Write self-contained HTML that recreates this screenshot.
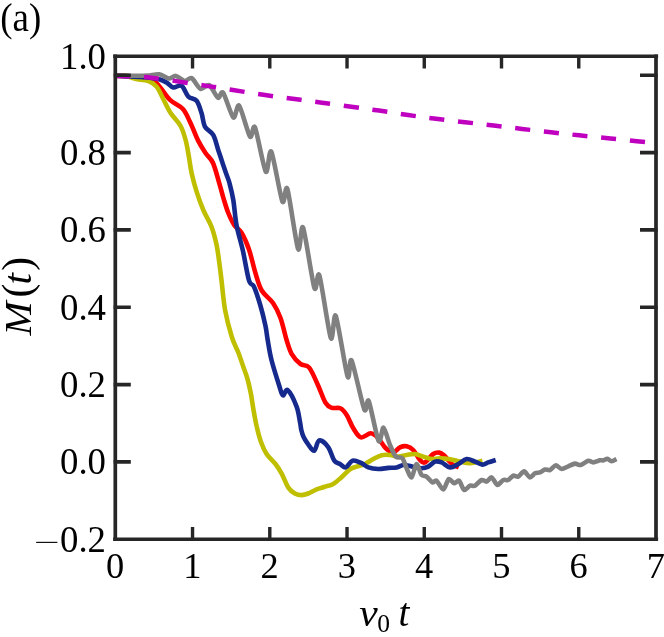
<!DOCTYPE html>
<html><head><meta charset="utf-8"><title>M(t)</title>
<style>
html,body{margin:0;padding:0;background:#fff;overflow:hidden}
svg{display:block}
text{font-family:"Liberation Serif",serif;fill:#000}
</style></head><body>
<svg width="664" height="637" viewBox="0 0 664 637">
<defs><filter id="idf" x="0" y="0" width="664" height="637" filterUnits="userSpaceOnUse"><feOffset dx="0" dy="0"/></filter></defs>
<rect width="664" height="637" fill="#ffffff"/>
<path d="M115.30 75.90 C118.58 76.00 128.77 75.82 135.00 76.50 C141.23 77.18 148.48 78.15 152.70 80.00 C156.92 81.85 157.37 84.23 160.30 87.60 C163.23 90.97 166.53 96.63 170.30 100.20 C174.07 103.77 179.55 105.23 182.90 109.00 C186.25 112.77 187.88 117.57 190.40 122.80 C192.92 128.03 195.48 135.37 198.00 140.40 C200.52 145.43 203.00 149.23 205.50 153.00 C208.00 156.77 210.70 157.95 213.00 163.00 C215.30 168.05 217.55 177.42 219.30 183.30 C221.05 189.18 222.00 193.35 223.50 198.30 C225.00 203.25 226.47 208.47 228.30 213.00 C230.13 217.53 232.30 222.20 234.50 225.50 C236.70 228.80 239.08 228.80 241.50 232.80 C243.92 236.80 246.68 242.82 249.00 249.50 C251.32 256.18 253.28 266.07 255.40 272.90 C257.52 279.73 258.77 285.48 261.70 290.50 C264.63 295.52 269.87 298.42 273.00 303.00 C276.13 307.58 278.23 311.83 280.50 318.00 C282.77 324.17 284.75 334.03 286.60 340.00 C288.45 345.97 289.30 349.82 291.60 353.80 C293.90 357.78 297.47 361.60 300.40 363.90 C303.33 366.20 306.27 364.05 309.20 367.60 C312.13 371.15 315.28 379.33 318.00 385.20 C320.72 391.07 323.20 399.03 325.50 402.80 C327.80 406.57 329.33 406.88 331.80 407.80 C334.27 408.72 337.82 407.10 340.30 408.30 C342.78 409.50 344.53 411.67 346.70 415.00 C348.87 418.33 350.95 424.57 353.30 428.30 C355.65 432.03 357.88 436.57 360.80 437.40 C363.72 438.23 367.88 433.15 370.80 433.30 C373.72 433.45 375.80 435.80 378.30 438.30 C380.80 440.80 383.30 445.95 385.80 448.30 C388.30 450.65 390.93 452.55 393.30 452.40 C395.67 452.25 397.78 448.42 400.00 447.40 C402.22 446.38 404.40 445.87 406.60 446.30 C408.80 446.73 410.97 447.72 413.20 450.00 C415.43 452.28 418.03 457.93 420.00 460.00 C421.97 462.07 422.80 463.40 425.00 462.40 C427.20 461.40 430.83 455.63 433.20 454.00 C435.57 452.37 437.35 452.33 439.20 452.60 C441.05 452.87 442.78 454.33 444.30 455.60 C445.82 456.87 446.85 458.67 448.30 460.20 C449.75 461.73 451.25 463.60 453.00 464.80 C454.75 466.00 457.83 466.97 458.80 467.40" fill="none" stroke="#ff0000" stroke-width="4.60" stroke-linejoin="round" stroke-linecap="butt" />
<path d="M115.30 75.80 C116.92 75.77 121.72 75.10 125.00 75.60 C128.28 76.10 131.08 77.90 135.00 78.80 C138.92 79.70 144.90 79.70 148.50 81.00 C152.10 82.30 154.10 83.52 156.60 86.60 C159.10 89.68 161.13 95.05 163.50 99.50 C165.87 103.95 167.95 108.88 170.80 113.30 C173.65 117.72 178.13 121.55 180.60 126.00 C183.07 130.45 184.27 135.17 185.60 140.00 C186.93 144.83 187.60 149.50 188.60 155.00 C189.60 160.50 190.27 166.90 191.60 173.00 C192.93 179.10 194.65 185.43 196.60 191.60 C198.55 197.77 200.80 204.10 203.30 210.00 C205.80 215.90 209.38 221.17 211.60 227.00 C213.82 232.83 215.33 239.17 216.60 245.00 C217.87 250.83 218.38 256.10 219.20 262.00 C220.02 267.90 220.50 272.30 221.50 280.40 C222.50 288.50 223.45 301.08 225.20 310.60 C226.95 320.12 229.78 330.43 232.00 337.50 C234.22 344.57 236.63 348.17 238.50 353.00 C240.37 357.83 241.70 362.17 243.20 366.50 C244.70 370.83 246.23 374.53 247.50 379.00 C248.77 383.47 249.80 388.13 250.80 393.30 C251.80 398.47 252.52 404.45 253.50 410.00 C254.48 415.55 255.48 421.35 256.70 426.60 C257.92 431.85 259.15 436.93 260.80 441.50 C262.45 446.07 264.15 450.25 266.60 454.00 C269.05 457.75 272.97 460.70 275.50 464.00 C278.03 467.30 279.67 469.87 281.80 473.80 C283.93 477.73 286.12 484.33 288.30 487.60 C290.48 490.87 292.68 492.15 294.90 493.40 C297.12 494.65 299.38 495.08 301.60 495.10 C303.82 495.12 305.70 494.47 308.20 493.50 C310.70 492.53 313.82 490.42 316.60 489.30 C319.38 488.18 322.13 487.68 324.90 486.80 C327.67 485.92 330.43 485.60 333.20 484.00 C335.97 482.40 338.72 479.65 341.50 477.20 C344.28 474.75 347.38 471.07 349.90 469.30 C352.42 467.53 354.08 467.48 356.60 466.60 C359.12 465.72 362.22 465.27 365.00 464.00 C367.78 462.73 370.53 460.47 373.30 459.00 C376.07 457.53 378.82 455.87 381.60 455.20 C384.38 454.53 387.23 454.77 390.00 455.00 C392.77 455.23 395.43 456.60 398.20 456.60 C400.97 456.60 403.80 455.43 406.60 455.00 C409.40 454.57 412.23 453.73 415.00 454.00 C417.77 454.27 420.45 455.77 423.20 456.60 C425.95 457.43 428.70 458.70 431.50 459.00 C434.30 459.30 436.92 458.37 440.00 458.40 C443.08 458.43 446.67 458.67 450.00 459.20 C453.33 459.73 456.67 460.92 460.00 461.60 C463.33 462.28 466.27 463.43 470.00 463.30 C473.73 463.17 480.33 461.22 482.40 460.80" fill="none" stroke="#bfbf00" stroke-width="4.60" stroke-linejoin="round" stroke-linecap="butt" />
<path d="M115.30 75.80 C117.75 75.90 125.88 76.20 130.00 76.40 C134.12 76.60 136.67 76.78 140.00 77.00 C143.33 77.22 146.67 77.28 150.00 77.70 C153.33 78.12 157.17 78.65 160.00 79.50 C162.83 80.35 164.78 81.47 167.00 82.80 C169.22 84.13 170.87 87.00 173.30 87.50 C175.73 88.00 179.10 84.28 181.60 85.80 C184.10 87.32 185.80 94.10 188.30 96.60 C190.80 99.10 194.38 98.02 196.60 100.80 C198.82 103.58 200.22 109.00 201.60 113.30 C202.98 117.60 202.97 123.00 204.90 126.60 C206.83 130.20 210.98 131.02 213.20 134.90 C215.42 138.78 216.53 144.90 218.20 149.90 C219.87 154.90 221.82 160.80 223.20 164.90 C224.58 169.00 225.43 171.40 226.50 174.50 C227.57 177.60 228.47 179.25 229.60 183.50 C230.73 187.75 232.15 193.08 233.30 200.00 C234.45 206.92 234.92 216.62 236.50 225.00 C238.08 233.38 240.72 241.07 242.80 250.30 C244.88 259.53 247.13 274.33 249.00 280.40 C250.87 286.47 252.10 282.52 254.00 286.70 C255.90 290.88 258.50 299.02 260.40 305.50 C262.30 311.98 264.18 319.85 265.40 325.60 C266.62 331.35 266.68 334.27 267.70 340.00 C268.72 345.73 269.62 352.50 271.50 360.00 C273.38 367.50 277.12 379.12 279.00 385.00 C280.88 390.88 281.33 394.42 282.80 395.30 C284.27 396.18 285.50 388.42 287.80 390.30 C290.10 392.18 294.57 401.32 296.60 406.60 C298.63 411.88 299.22 418.10 300.00 422.00 C300.78 425.90 300.70 427.50 301.30 430.00 C301.90 432.50 302.45 434.62 303.60 437.00 C304.75 439.38 306.43 442.00 308.20 444.30 C309.97 446.60 312.37 451.43 314.20 450.80 C316.03 450.17 316.90 441.17 319.20 440.50 C321.50 439.83 325.48 443.45 328.00 446.80 C330.52 450.15 332.30 457.73 334.30 460.60 C336.30 463.47 338.08 462.87 340.00 464.00 C341.92 465.13 343.72 467.95 345.80 467.40 C347.88 466.85 349.87 461.40 352.50 460.70 C355.13 460.00 358.97 462.08 361.60 463.20 C364.23 464.32 365.52 466.43 368.30 467.40 C371.08 468.37 374.97 468.92 378.30 469.00 C381.63 469.08 385.25 468.17 388.30 467.90 C391.35 467.63 394.12 467.88 396.60 467.40 C399.08 466.92 401.13 465.27 403.20 465.00 C405.27 464.73 407.03 465.40 409.00 465.80 C410.97 466.20 412.92 467.00 415.00 467.40 C417.08 467.80 419.30 468.33 421.50 468.20 C423.70 468.07 425.95 467.70 428.20 466.60 C430.45 465.50 432.77 462.30 435.00 461.60 C437.23 460.90 439.10 461.43 441.60 462.40 C444.10 463.37 447.22 467.13 450.00 467.40 C452.78 467.67 455.53 465.40 458.30 464.00 C461.07 462.60 463.82 459.40 466.60 459.00 C469.38 458.60 472.37 460.67 475.00 461.60 C477.63 462.53 480.20 464.47 482.40 464.60 C484.60 464.73 485.98 463.17 488.20 462.40 C490.42 461.63 494.45 460.40 495.70 460.00" fill="none" stroke="#152a8c" stroke-width="4.60" stroke-linejoin="round" stroke-linecap="butt" />
<path d="M115.30 75.80 C117.94 75.80 130.78 75.84 135.10 75.80 C139.42 75.76 144.47 75.70 147.70 75.50 C150.93 75.30 156.49 73.90 159.30 74.30 C162.11 74.70 166.60 78.29 168.80 78.50 C171.00 78.71 173.69 75.57 175.80 75.90 C177.91 76.23 182.48 80.71 184.60 81.00 C186.72 81.29 189.58 77.05 191.70 78.10 C193.82 79.15 198.17 87.97 200.50 88.90 C202.83 89.83 206.87 83.93 209.20 85.10 C211.53 86.27 216.15 96.69 218.00 97.70 C219.85 98.71 221.06 90.06 223.10 92.70 C225.14 95.34 231.15 115.75 233.30 117.50 C235.45 119.25 236.97 103.25 239.20 105.80 C241.43 108.35 247.89 133.71 250.00 136.60 C252.11 139.49 252.89 122.83 255.00 127.50 C257.11 132.17 263.63 168.39 265.80 171.60 C267.97 174.81 269.09 147.61 271.30 151.60 C273.51 155.59 280.25 196.51 282.40 201.50 C284.55 206.49 285.31 182.67 287.40 189.00 C289.49 195.33 296.01 243.85 298.10 249.00 C300.19 254.15 300.93 222.40 303.10 227.60 C305.27 232.80 312.23 281.63 314.40 288.00 C316.57 294.37 317.21 268.73 319.40 275.40 C321.59 282.07 328.61 332.59 330.80 338.00 C332.99 343.41 333.56 310.87 335.80 316.00 C338.04 321.13 345.49 370.57 347.60 376.50 C349.71 382.43 349.37 356.10 351.60 360.50 C353.83 364.90 362.02 404.10 364.30 409.50 C366.58 414.90 366.79 396.80 368.70 401.00 C370.61 405.20 376.63 437.44 378.60 441.00 C380.57 444.56 381.98 427.17 383.50 427.70 C385.02 428.23 388.36 441.15 390.00 445.00 C391.64 448.85 394.15 454.84 395.80 456.60 C397.45 458.36 400.96 456.65 402.40 458.20 C403.84 459.75 405.37 465.64 406.60 468.20 C407.83 470.76 410.28 477.96 411.60 477.40 C412.92 476.84 415.18 464.33 416.50 464.00 C417.82 463.67 420.17 473.22 421.50 474.90 C422.83 476.58 425.05 475.60 426.50 476.60 C427.95 477.60 431.07 481.85 432.40 482.40 C433.73 482.95 435.05 479.75 436.50 480.70 C437.95 481.65 441.67 489.73 443.30 489.50 C444.93 489.27 447.26 479.84 448.70 479.00 C450.14 478.16 452.71 482.97 454.10 483.20 C455.49 483.43 457.77 479.81 459.10 480.70 C460.43 481.59 462.65 489.23 464.10 489.90 C465.55 490.57 468.55 486.26 470.00 485.70 C471.45 485.14 473.45 486.46 475.00 485.70 C476.55 484.94 480.05 480.55 481.60 480.00 C483.15 479.45 485.27 481.95 486.60 481.60 C487.93 481.25 490.16 476.96 491.60 477.40 C493.04 477.84 495.85 484.55 497.40 484.90 C498.95 485.25 501.76 480.65 503.20 480.00 C504.64 479.35 506.87 480.57 508.20 480.00 C509.53 479.43 511.87 476.15 513.20 475.70 C514.53 475.25 516.75 477.17 518.20 476.60 C519.65 476.03 522.55 471.29 524.10 471.40 C525.65 471.51 528.35 477.15 529.80 477.40 C531.25 477.65 533.64 473.97 535.00 473.30 C536.36 472.63 538.67 472.89 540.00 472.40 C541.33 471.91 543.67 469.92 545.00 469.60 C546.33 469.28 548.56 470.57 550.00 470.00 C551.44 469.43 554.25 465.43 555.80 465.30 C557.35 465.17 559.93 468.87 561.60 469.00 C563.27 469.13 566.51 467.02 568.30 466.30 C570.09 465.58 573.35 463.77 575.00 463.60 C576.65 463.43 578.94 465.37 580.70 465.00 C582.46 464.63 586.53 461.15 588.20 460.80 C589.87 460.45 591.63 462.47 593.20 462.40 C594.77 462.33 598.67 460.57 600.00 460.30 C601.33 460.03 602.21 460.60 603.20 460.40 C604.19 460.20 606.29 458.68 607.40 458.80 C608.51 458.92 610.29 461.27 611.50 461.30 C612.71 461.33 615.83 459.31 616.50 459.00" fill="none" stroke="#808080" stroke-width="4.60" stroke-linejoin="round" stroke-linecap="butt" />
<path d="M115.30 75.80 C121.25 76.12 135.55 75.98 151.00 77.70 C166.45 79.42 189.00 83.22 208.00 86.10 C227.00 88.98 246.00 92.23 265.00 95.00 C284.00 97.77 303.00 100.10 322.00 102.70 C341.00 105.30 364.67 108.55 379.00 110.60 C393.33 112.65 398.50 113.63 408.00 115.00 C417.50 116.37 426.50 117.60 436.00 118.80 C445.50 120.00 455.42 121.08 465.00 122.20 C474.58 123.32 484.00 124.38 493.50 125.50 C503.00 126.62 512.42 127.77 522.00 128.90 C531.58 130.03 541.50 131.23 551.00 132.30 C560.50 133.37 569.50 134.32 579.00 135.30 C588.50 136.28 598.33 137.22 608.00 138.20 C617.67 139.18 630.33 140.52 637.00 141.20 C643.67 141.88 646.17 142.12 648.00 142.30" fill="none" stroke="#bf00bf" stroke-width="4.5" stroke-dasharray="15.1 13.72" stroke-dashoffset="0"/>
<path d="M113.70 75.25 H130.80 M657.60 75.25 H640.00 M113.70 152.59 H130.80 M657.60 152.59 H640.00 M113.70 229.93 H130.80 M657.60 229.93 H640.00 M113.70 307.27 H130.80 M657.60 307.27 H640.00 M113.70 384.62 H130.80 M657.60 384.62 H640.00 M113.70 461.96 H130.80 M657.60 461.96 H640.00" stroke="#262626" stroke-width="3.7" fill="none"/>
<path d="M192.54 56.20 V68.50 M192.54 539.20 V526.90 M269.79 56.20 V68.50 M269.79 539.20 V526.90 M347.03 56.20 V68.50 M347.03 539.20 V526.90 M424.27 56.20 V68.50 M424.27 539.20 V526.90 M501.51 56.20 V68.50 M501.51 539.20 V526.90 M578.76 56.20 V68.50 M578.76 539.20 V526.90" stroke="#262626" stroke-width="3.4" fill="none"/>
<path d="M115.30 54.50 V540.90 M656.00 54.50 V540.90" stroke="#262626" stroke-width="3.7" fill="none"/>
<path d="M113.20 56.20 H658.10 M113.20 539.20 H658.10" stroke="#262626" stroke-width="3.4" fill="none"/>
<g style="will-change:opacity;mix-blend-mode:normal" filter="url(#idf)">
<text x="106.00" y="68.60" text-anchor="end" font-size="37.00"  textLength="46" lengthAdjust="spacingAndGlyphs">1.0</text>
<text x="106.00" y="164.89" text-anchor="end" font-size="37.00"  textLength="46" lengthAdjust="spacingAndGlyphs">0.8</text>
<text x="106.00" y="242.23" text-anchor="end" font-size="37.00"  textLength="46" lengthAdjust="spacingAndGlyphs">0.6</text>
<text x="106.00" y="319.57" text-anchor="end" font-size="37.00"  textLength="46" lengthAdjust="spacingAndGlyphs">0.4</text>
<text x="106.00" y="396.92" text-anchor="end" font-size="37.00"  textLength="46" lengthAdjust="spacingAndGlyphs">0.2</text>
<text x="106.00" y="474.26" text-anchor="end" font-size="37.00"  textLength="46" lengthAdjust="spacingAndGlyphs">0.0</text>
<text x="106.00" y="551.60" text-anchor="end" font-size="37.00"  textLength="46" lengthAdjust="spacingAndGlyphs">0.2</text>
<text x="33.9" y="549.5" font-size="23" textLength="25.8" lengthAdjust="spacingAndGlyphs">&#8722;</text>
<text x="115.10" y="578.30" text-anchor="middle" font-size="36.40"  >0</text>
<text x="192.34" y="578.30" text-anchor="middle" font-size="36.40"  >1</text>
<text x="269.59" y="578.30" text-anchor="middle" font-size="36.40"  >2</text>
<text x="346.83" y="578.30" text-anchor="middle" font-size="36.40"  >3</text>
<text x="424.07" y="578.30" text-anchor="middle" font-size="36.40"  >4</text>
<text x="501.31" y="578.30" text-anchor="middle" font-size="36.40"  >5</text>
<text x="578.56" y="578.30" text-anchor="middle" font-size="36.40"  >6</text>
<text x="655.80" y="578.30" text-anchor="middle" font-size="36.40"  >7</text>
<text x="0.20" y="30.60" text-anchor="start" font-size="39.50"  textLength="41" lengthAdjust="spacingAndGlyphs">(a)</text>
<text x="359.20" y="626.00" text-anchor="start" font-size="37.00" font-style="italic" textLength="18.5" lengthAdjust="spacingAndGlyphs">&#957;</text>
<text x="377.30" y="632.00" text-anchor="start" font-size="25.50"  >0</text>
<text x="398.60" y="626.00" text-anchor="start" font-size="39.00" font-style="italic" >t</text>
<g transform="translate(30.6 335.8) rotate(-90)">
<text x="0.3" y="0" font-size="38.4" font-style="italic" textLength="34" lengthAdjust="spacingAndGlyphs">M</text>
<text x="38.2" y="0" font-size="41.4">(</text>
<text x="51.3" y="0" font-size="41" font-style="italic">t</text>
<text x="65.0" y="0" font-size="41.4">)</text>
</g>
</g>
</svg>
</body></html>
